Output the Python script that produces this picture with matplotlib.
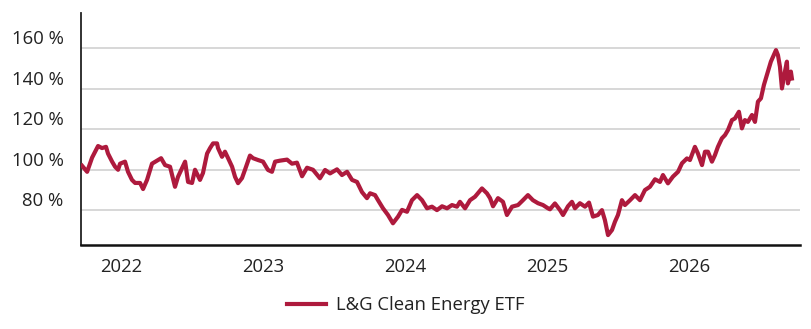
import matplotlib.pyplot as plt
import matplotlib.transforms as mtransforms

plt.rcParams['font.family'] = ['Open Sans', 'DejaVu Sans']

## DATOS

# tiempo en años decimales
t = [2021.725, 2021.761, 2021.796, 2021.838, 2021.866, 2021.894, 2021.908, 2021.937,
     2021.958, 2021.979, 2021.993, 2022.028, 2022.049, 2022.077, 2022.099, 2022.134,
     2022.155, 2022.183, 2022.218, 2022.254, 2022.282, 2022.310, 2022.345, 2022.380,
     2022.401, 2022.451, 2022.472, 2022.500, 2022.521, 2022.556, 2022.577, 2022.606,
     2022.627, 2022.648, 2022.676, 2022.683, 2022.711, 2022.732, 2022.754, 2022.782,
     2022.803, 2022.824, 2022.852, 2022.873, 2022.908, 2022.930, 2022.965, 2023.000,
     2023.035, 2023.063, 2023.085, 2023.120, 2023.169, 2023.204, 2023.239, 2023.275,
     2023.310, 2023.352, 2023.401, 2023.437, 2023.472, 2023.521, 2023.556, 2023.592,
     2023.627, 2023.662, 2023.697, 2023.732, 2023.754, 2023.789, 2023.810, 2023.845,
     2023.880, 2023.915, 2023.951, 2023.979, 2024.014, 2024.049, 2024.085, 2024.120,
     2024.155, 2024.190, 2024.225, 2024.261, 2024.296, 2024.331, 2024.366, 2024.387,
     2024.423, 2024.458, 2024.493, 2024.542, 2024.577, 2024.599, 2024.620, 2024.655,
     2024.690, 2024.718, 2024.754, 2024.796, 2024.831, 2024.866, 2024.901, 2024.937,
     2024.972, 2025.007, 2025.021, 2025.056, 2025.092, 2025.113, 2025.148, 2025.176,
     2025.197, 2025.232, 2025.268, 2025.296, 2025.324, 2025.359, 2025.387, 2025.408,
     2025.430, 2025.458, 2025.479, 2025.500, 2025.528, 2025.549, 2025.585, 2025.620,
     2025.655, 2025.690, 2025.725, 2025.761, 2025.796, 2025.817, 2025.852, 2025.887,
     2025.923, 2025.951, 2025.986, 2026.007, 2026.042, 2026.063, 2026.092, 2026.113,
     2026.134, 2026.162, 2026.183, 2026.204, 2026.232, 2026.254, 2026.275, 2026.303,
     2026.324, 2026.352, 2026.373, 2026.394, 2026.415, 2026.444, 2026.465, 2026.486,
     2026.507, 2026.528, 2026.549, 2026.577, 2026.613, 2026.627, 2026.641, 2026.655,
     2026.676, 2026.690, 2026.697, 2026.718, 2026.725]

# valor del fondo en % (base 100)
valor = [102, 99, 106, 111.7, 110.7, 111.3, 108, 104,
         101.5, 100, 103, 104, 99, 95, 93.5, 93.5,
         90.5, 95, 103, 104.5, 105.7, 102.3, 101.5, 91.6,
         96.5, 104, 94, 93.5, 100, 95, 98.4, 108,
         110.7, 113, 113, 110.7, 106.4, 108.9, 105.7, 101.5,
         96.5, 93.4, 95.9, 100, 107, 105.7, 104.8, 104,
         99.9, 99, 104, 104.5, 105, 103, 103.5, 96.8,
         101, 100, 95.8, 99.9, 98.2, 100.2, 97.4, 99,
         95, 94, 89, 86, 88.4, 87.5, 85, 81,
         77.7, 73.6, 76.9, 80.2, 79.3, 85, 87.5, 85,
         81, 81.8, 80.1, 82, 81, 82.6, 81.8, 84.2,
         81, 85, 86.7, 90.8, 88.4, 86, 82, 86,
         84.2, 77.7, 81.8, 82.6, 85, 87.5, 85, 83.5,
         82.6, 81, 80.5, 83.4, 80.1, 77.7, 82, 84.2,
         81, 83.5, 81.8, 83.8, 76.9, 77.7, 80.1, 75.2,
         67.8, 70.3, 74.4, 77.7, 85, 82.6, 85, 87.5,
         85, 90, 91.6, 95.3, 94, 97.4, 93.3, 96.6,
         99, 103.2, 105.6, 104.8, 111.3, 108.1, 102.3, 108.9,
         108.9, 104, 107.2, 111.3, 115.5, 117.1, 119.6, 124.5,
         125.3, 128.6, 120.4, 124.5, 123.6, 127, 123.6, 133.6,
         135.2, 141.8, 146.7, 153.3, 159, 156.5, 150.8, 140.1,
         148.4, 153.3, 142.6, 148.4, 145]

serie = 'L&G Clean Energy ETF'
anios = [2022, 2023, 2024, 2025, 2026]
niveles = [80, 100, 120, 140, 160]
etiquetas_y = ['80 %', '100 %', '120 %', '140 %', '160 %']

## GRAFICA

fig = plt.figure(figsize=(8.11, 3.29), dpi=100)
ax = fig.add_axes([0.0999, 0.2553, 0.8865, 0.7052])

ax.plot(t, valor, color='#ae1a3d', lw=3.0, solid_joinstyle='round', label=serie, zorder=3)

ax.set_xlim(2021.718, 2026.782)
ax.set_ylim(62.9, 177.3)

ax.set_yticks(niveles)
ax.set_yticklabels(etiquetas_y)
ax.set_xticks(anios)
ax.set_xticklabels([str(a) for a in anios])
ax.grid(axis='y', color='#d4d4d4', lw=1.3)
ax.set_axisbelow(True)

ax.tick_params(axis='both', length=0, labelsize=13.3, colors='#222222')
ax.tick_params(axis='y', pad=12.5)
ax.tick_params(axis='x', pad=9)

# etiquetas del eje y un poco por encima de su linea
desplaza = mtransforms.ScaledTranslation(0, 11 / 100, fig.dpi_scale_trans)
for lbl in ax.get_yticklabels():
    lbl.set_transform(lbl.get_transform() + desplaza)

for lado in ['top', 'right']:
    ax.spines[lado].set_visible(False)
ax.spines['left'].set_color('#222222')
ax.spines['left'].set_linewidth(1.3)
ax.spines['bottom'].set_color('#111111')
ax.spines['bottom'].set_linewidth(1.8)

fig.legend(loc='lower center', bbox_to_anchor=(0.5, -0.005), frameon=False,
           fontsize=13.3, handlelength=2.15, handletextpad=0.5,
           labelcolor='#222222')

plt.savefig('out.png', dpi=100)
